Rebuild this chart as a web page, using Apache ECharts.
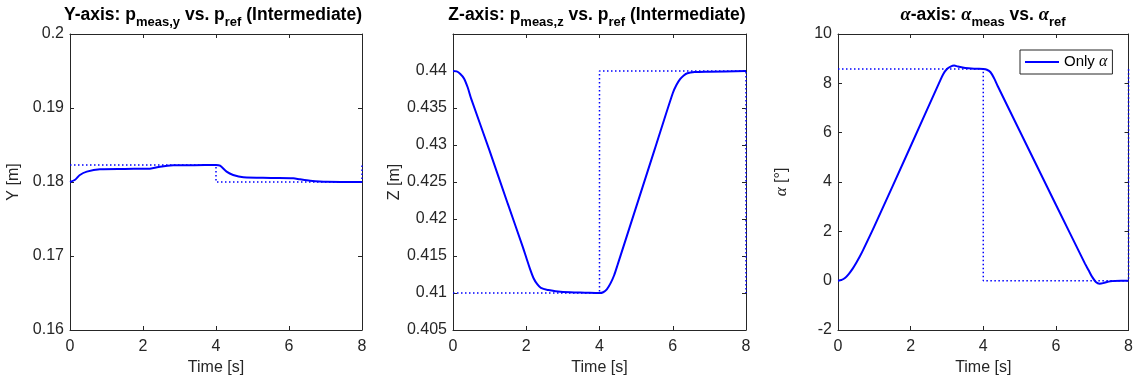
<!DOCTYPE html>
<html>
<head>
<meta charset="utf-8">
<script src="https://cdn.jsdelivr.net/npm/echarts@6/dist/echarts.min.js"></script>
<style>html,body{margin:0;padding:0;background:#fff}#c{width:1136px;height:385px}</style>
</head>
<body>
<div id="c"></div>
<script>
// ---------- DATA ----------
const xTicks = [0, 2, 4, 6, 8];

// Y-axis panel
const yMeasT = [0, 0.14, 0.27, 0.46, 0.82, 1.5, 2.19, 2.47, 2.83, 3.4, 4.0, 4.11, 4.29, 4.47, 4.75, 5.5, 6.12, 6.3, 6.58, 7.03, 8.0];
const yMeasV = [0.18, 0.1803, 0.18095, 0.1814, 0.18172, 0.18177, 0.1818, 0.18207, 0.18225, 0.18228, 0.1823, 0.1822, 0.1814, 0.18095, 0.18064, 0.18055, 0.1805, 0.18036, 0.18018, 0.18003, 0.18];
const yRefT = [0, 4, 4, 8, 8];
const yRefV = [0.1823, 0.1823, 0.18, 0.18, 0.1823];

// Z-axis panel
const zMeasT = [0, 0.1, 0.2, 0.3, 0.4, 0.5, 1.0, 1.5, 1.9, 2.0, 2.1, 2.2, 2.3, 2.4, 2.6, 2.8, 3.2, 3.6, 4.0, 4.1, 4.2, 4.3, 4.4, 4.5, 5.0, 5.5, 6.0, 6.1, 6.2, 6.3, 6.4, 6.6, 7.0, 8.0];
const zMeasV = [0.44, 0.43995, 0.4396, 0.439, 0.4378, 0.4362, 0.4292, 0.422, 0.4163, 0.4148, 0.4133, 0.412, 0.4112, 0.4107, 0.4104, 0.41025, 0.4101, 0.41005, 0.41, 0.4101, 0.4105, 0.4113, 0.4124, 0.4139, 0.4216, 0.4293, 0.437, 0.4381, 0.4389, 0.4394, 0.4397, 0.43985, 0.4399, 0.44];
const zRefT = [0, 4, 4, 8, 8];
const zRefV = [0.41, 0.41, 0.44, 0.44, 0.41];

// alpha panel
const aMeasT = [0, 0.1, 0.2, 0.3, 0.4, 0.5, 0.6, 0.7, 1.0, 2.0, 2.8, 2.9, 3.0, 3.1, 3.2, 3.3, 3.5, 3.8, 4.0, 4.1, 4.2, 4.3, 4.4, 5.0, 6.0, 6.8, 6.9, 7.0, 7.1, 7.2, 7.3, 7.5, 7.8, 8.0];
const aMeasV = [0, 0.03, 0.12, 0.28, 0.48, 0.72, 0.98, 1.27, 2.2, 5.45, 8.07, 8.38, 8.58, 8.68, 8.72, 8.68, 8.62, 8.59, 8.58, 8.55, 8.45, 8.2, 7.88, 6.08, 3.08, 0.69, 0.42, 0.15, -0.05, -0.12, -0.1, -0.02, 0, 0];
const aRefT = [0, 4, 4, 8, 8];
const aRefV = [8.58, 8.58, 0, 0, 8.58];

const legendLabel = 'Only α';

// ---------- CHART ----------
const SANS = '"Liberation Sans", Arial, sans-serif';
const SERIF = '"Liberation Serif", "Times New Roman", serif';
const AX = '#262626';
const BLUE = '#0000ff';
const pair = (t, v) => t.map((x, i) => [x, v[i]]);

const grids = [
  {left: 70, right: 774, top: 34, bottom: 55},
  {left: 453, right: 390, top: 34, bottom: 55},
  {left: 838, right: 7, top: 34, bottom: 55}
];
const yCfg = [
  {min: 0.16, max: 0.2, interval: 0.01, fmt: v => String(+v.toFixed(3)), name: 'Y [m]', gap: 48},
  {min: 0.405, max: 0.445, interval: 0.005, fmt: v => String(+v.toFixed(3)), name: 'Z [m]', gap: 47},
  {min: -2, max: 10, interval: 2, fmt: v => String(Math.round(v)), name: '{a|α} [°]', gap: 48}
];

const lineAx = {show: true, onZero: false, lineStyle: {color: AX, width: 1}};
const tickAx = {show: true, inside: true, length: 4, lineStyle: {color: AX}};
const xAxis = [], yAxis = [], series = [];
grids.forEach((g, i) => {
  xAxis.push({
    type: 'value', gridIndex: i, position: 'bottom', min: 0, max: 8, interval: 2,
    axisLine: lineAx, axisTick: tickAx,
    axisLabel: {show: true, margin: 9, fontSize: 16, color: AX, fontFamily: SANS, formatter: v => String(v)},
    splitLine: {show: false},
    name: 'Time [s]', nameLocation: 'middle', nameGap: 30,
    nameTextStyle: {fontSize: 16, color: AX, fontFamily: SANS}
  });
  xAxis.push({
    type: 'value', gridIndex: i, position: 'top', min: 0, max: 8, interval: 2,
    axisLine: lineAx, axisTick: tickAx,
    axisLabel: {show: false}, splitLine: {show: false}
  });
  const c = yCfg[i];
  yAxis.push({
    type: 'value', gridIndex: i, position: 'left', min: c.min, max: c.max, interval: c.interval,
    axisLine: lineAx, axisTick: tickAx,
    axisLabel: {show: true, margin: 6, fontSize: 16, color: AX, fontFamily: SANS, formatter: c.fmt,
                showMaxLabel: i !== 1},
    splitLine: {show: false},
    name: c.name, nameLocation: 'middle', nameGap: c.gap,
    nameTextStyle: {fontSize: 16, color: AX, fontFamily: SANS,
      rich: {a: {fontFamily: SERIF, fontStyle: 'italic', fontSize: 17, color: AX}}}
  });
  yAxis.push({
    type: 'value', gridIndex: i, position: 'right', min: c.min, max: c.max, interval: c.interval,
    axisLine: lineAx, axisTick: tickAx,
    axisLabel: {show: false}, splitLine: {show: false}
  });
});

const meas = [pair(yMeasT, yMeasV), pair(zMeasT, zMeasV), pair(aMeasT, aMeasV)];
const refs = [pair(yRefT, yRefV), pair(zRefT, zRefV), pair(aRefT, aRefV)];
const measNames = ['p_meas_y', 'p_meas_z', legendLabel];
for (let i = 0; i < 3; i++) {
  series.push({
    type: 'line', name: 'ref' + i, xAxisIndex: 2 * i, yAxisIndex: 2 * i, data: refs[i],
    symbol: 'none', lineStyle: {color: BLUE, width: 1.5, type: [1.5, 2.5]}, z: 2
  });
  series.push({
    type: 'line', name: measNames[i], xAxisIndex: 2 * i, yAxisIndex: 2 * i, data: meas[i],
    symbol: 'none', smooth: 0.3, lineStyle: {color: BLUE, width: 2}, itemStyle: {color: BLUE}, z: 3
  });
}

const titleRich = {
  m: {fontSize: 17.5, fontWeight: 'bold', fontFamily: SANS, color: '#000', lineHeight: 19, verticalAlign: 'top'},
  s: {fontSize: 13, fontWeight: 'bold', fontFamily: SANS, color: '#000', lineHeight: 13, padding: [10, 0, 0, 0], verticalAlign: 'top'},
  a: {fontSize: 18.5, fontStyle: 'italic', fontFamily: SERIF, color: '#000', lineHeight: 19, verticalAlign: 'top'}
};
const titles = [
  {text: '{m|Y-axis: p}{s|meas,y}{m| vs. p}{s|ref}{m| (Intermediate)}', cx: 213},
  {text: '{m|Z-axis: p}{s|meas,z}{m| vs. p}{s|ref}{m| (Intermediate)}', cx: 597},
  {text: '{a|α}{m|-axis: }{a|α}{s|meas}{m| vs. }{a|α}{s|ref}', cx: 983}
].map(t => ({
  text: t.text, left: t.cx, top: 6, textAlign: 'center', padding: 0,
  textStyle: {rich: titleRich, fontSize: 17.5}
}));

const chart = echarts.init(document.getElementById('c'), null, {renderer: 'canvas'});
chart.setOption({
  animation: false,
  backgroundColor: '#fff',
  title: titles,
  grid: grids,
  xAxis, yAxis, series,
  legend: {
    data: [{name: legendLabel, icon: 'rect'}], left: 1020, top: 50, padding: [4, 5], itemGap: 0,
    itemWidth: 34, itemHeight: 2,
    backgroundColor: '#fff', borderColor: AX, borderWidth: 1, borderRadius: 0,
    formatter: () => 'Only {a|α}',
    textStyle: {fontSize: 15, color: '#000', fontFamily: SANS, lineHeight: 16,
      rich: {a: {fontFamily: SERIF, fontStyle: 'italic', fontSize: 16, color: '#000', lineHeight: 16}}}
  }
});
</script>
</body>
</html>
